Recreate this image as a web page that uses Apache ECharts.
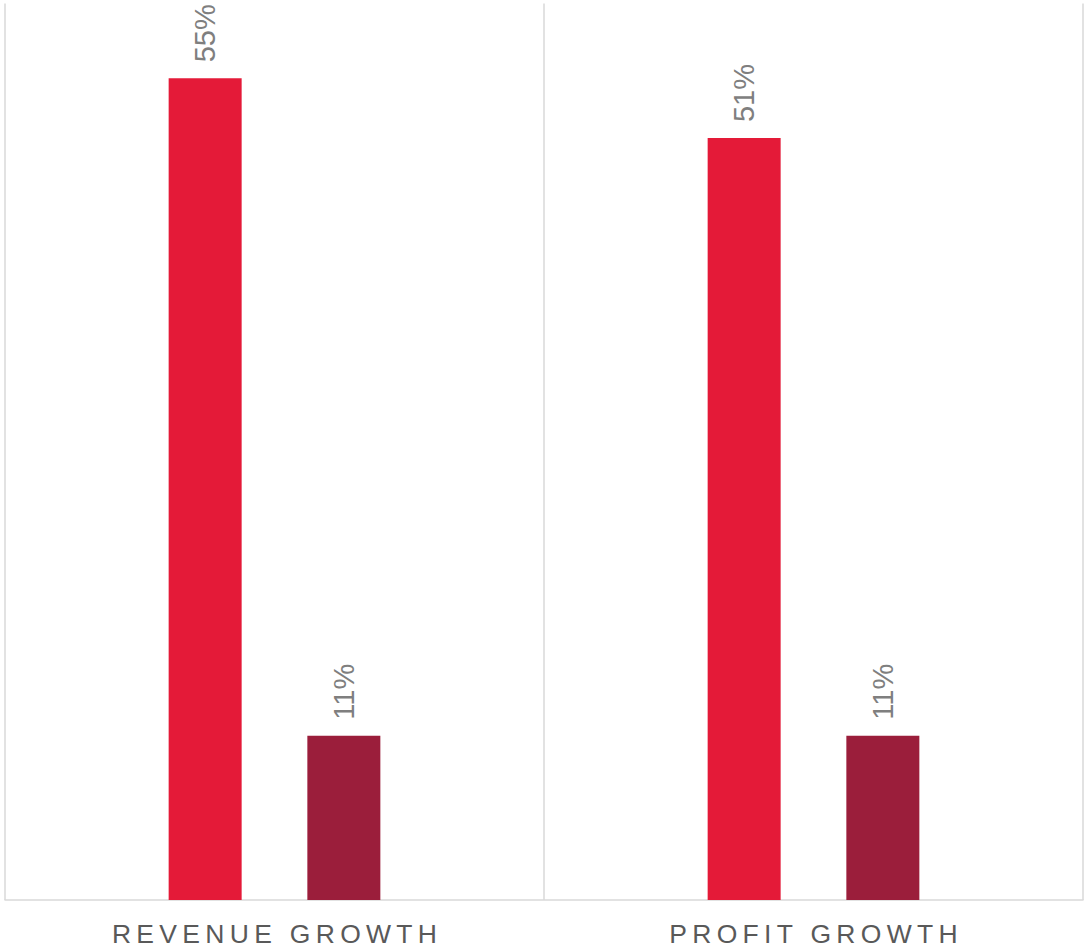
<!DOCTYPE html>
<html>
<head>
<meta charset="utf-8">
<script src="https://cdn.jsdelivr.net/npm/echarts@6/dist/echarts.min.js"></script>
<style>
html,body{margin:0;padding:0;background:#fff;}
#chart{width:1084px;height:952px;}
</style>
</head>
<body>
<div id="chart"></div>
<script>
const categories = ['REVENUE GROWTH', 'PROFIT GROWTH'];
const seriesA = [55, 51];
const seriesB = [11, 11];

const chart = echarts.init(document.getElementById('chart'), null, {renderer: 'svg'});
const labelCfg = {
  show: true,
  position: 'top',
  rotate: 90,
  align: 'left',
  verticalAlign: 'middle',
  distance: 16,
  color: '#7f7f7f',
  fontFamily: 'Liberation Sans, Arial, sans-serif',
  fontSize: 29,
  formatter: p => p.value + '%'
};
chart.setOption({
  animation: false,
  backgroundColor: '#fff',
  grid: {left: 5, right: 1, top: 3.6, bottom: 52, containLabel: false},
  xAxis: {
    type: 'category',
    data: categories,
    axisTick: {show: false},
    axisLine: {show: true, lineStyle: {color: '#d9d9d9', width: 1.5}},
    splitLine: {show: true, interval: 0, lineStyle: {color: '#d9d9d9', width: 1.5}},
    axisLabel: {
      color: '#595959',
      fontFamily: 'Liberation Sans, Arial, sans-serif',
      fontSize: 26.5,
      margin: 20
    }
  },
  yAxis: {
    type: 'value',
    min: 0,
    max: 60,
    show: false,
    splitLine: {show: false}
  },
  series: [
    {type: 'bar', data: seriesA, barWidth: 73, barGap: '90%', itemStyle: {color: '#E41A38'}, label: labelCfg},
    {type: 'bar', data: seriesB, barWidth: 73, barGap: '90%', itemStyle: {color: '#9B1E3B'}, label: labelCfg}
  ]
});

function spaceCategoryLabels() {
  const texts = document.querySelectorAll('#chart svg text');
  texts.forEach(t => {
    if (categories.indexOf(t.textContent) >= 0) {
      t.style.letterSpacing = '5.3px';
      t.setAttribute('dx', '2.6');
    }
  });
}
chart.getZr().flush();
spaceCategoryLabels();
chart.on('finished', spaceCategoryLabels);
</script>
</body>
</html>
